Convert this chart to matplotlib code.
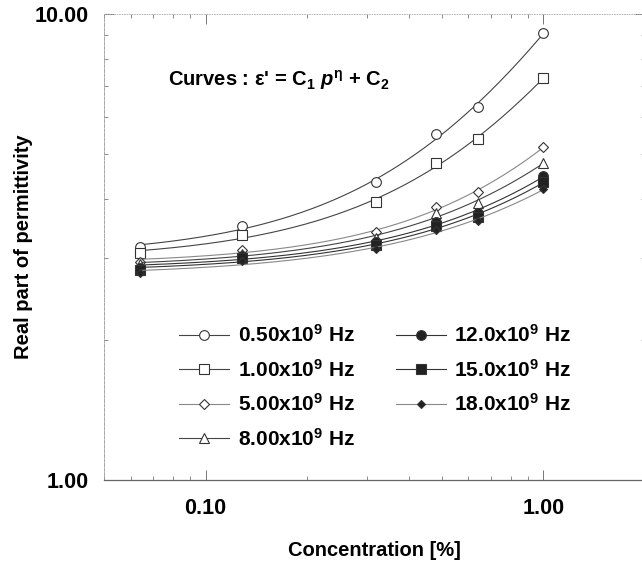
import numpy as np
import matplotlib
matplotlib.use("Agg")
import matplotlib.pyplot as plt
from matplotlib.ticker import FixedLocator, LogLocator, NullFormatter, FuncFormatter

plt.rcParams['font.family'] = ['Liberation Sans', 'DejaVu Sans']
plt.rcParams['font.weight'] = 'bold'
plt.rcParams['mathtext.fontset'] = 'custom'
plt.rcParams['mathtext.rm'] = 'Liberation Sans:bold'
plt.rcParams['mathtext.it'] = 'Liberation Sans:italic:bold'
plt.rcParams['mathtext.bf'] = 'Liberation Sans:bold'
plt.rcParams['mathtext.default'] = 'rm'

# concentrations [%]
conc = np.array([0.064, 0.128, 0.32, 0.48, 0.64, 1.0])

# real part of permittivity per frequency
eps_050 = [3.16, 3.51, 4.36, 5.53, 6.32, 9.10]
eps_100 = [3.07, 3.36, 3.95, 4.79, 5.39, 7.29]
eps_500 = [2.94, 3.12, 3.41, 3.85, 4.15, 5.18]
eps_800 = [2.91, 3.05, 3.31, 3.74, 3.93, 4.79]
eps_120 = [2.85, 3.03, 3.24, 3.58, 3.74, 4.49]
eps_150 = [2.82, 2.99, 3.19, 3.51, 3.67, 4.36]
eps_180 = [2.78, 2.95, 3.13, 3.44, 3.59, 4.21]

labels = ["0.50x10$^9$ Hz", "1.00x10$^9$ Hz", "5.00x10$^9$ Hz", "8.00x10$^9$ Hz",
          "12.0x10$^9$ Hz", "15.0x10$^9$ Hz", "18.0x10$^9$ Hz"]
series = [eps_050, eps_100, eps_500, eps_800, eps_120, eps_150, eps_180]

styles = [
    dict(marker='o', mfc='white', ms=7, color='#444444'),
    dict(marker='s', mfc='white', ms=6.5, color='#444444'),
    dict(marker='D', mfc='white', ms=5, color='#888888'),
    dict(marker='^', mfc='white', ms=7, color='#444444'),
    dict(marker='o', mfc='#222222', ms=7, color='#333333'),
    dict(marker='s', mfc='#222222', ms=6.5, color='#333333'),
    dict(marker='D', mfc='#222222', ms=4.5, color='#888888'),
]


def fit_power(p, e):
    # eps' = C1 * p**eta + C2, least squares over a grid of eta
    p = np.asarray(p)
    e = np.asarray(e)
    best = None
    for eta in np.linspace(0.2, 4, 381):
        A = np.column_stack([p ** eta, np.ones_like(p)])
        coef, res, _, _ = np.linalg.lstsq(A, e, rcond=None)
        r = np.sum((A @ coef - e) ** 2)
        if best is None or r < best[0]:
            best = (r, coef[0], eta, coef[1])
    return best[1:]


fig = plt.figure(figsize=(6.42, 5.65), dpi=100)
ax = fig.add_axes([104 / 642, 1 - 480 / 565, 541 / 642, 466 / 565])

pp = np.geomspace(conc[0], conc[-1], 200)
for vals, lab, st in zip(series, labels, styles):
    c1, eta, c2 = fit_power(conc, vals)
    ax.plot(pp, c1 * pp ** eta + c2, color=st['color'], lw=0.8)
    ax.plot(conc, vals, linestyle='none', marker=st['marker'], ms=st['ms'],
            mfc=st['mfc'], mec='#333333', mew=0.8)
    # legend proxy
    ax.plot([], [], color=st['color'], lw=0.8, marker=st['marker'], ms=st['ms'],
            mfc=st['mfc'], mec='#333333', mew=0.8, label=lab)

ax.set_xscale('log')
ax.set_yscale('log')
ax.set_xlim(0.05, 2.0)
ax.set_ylim(1.0, 10.0)

ax.xaxis.set_major_locator(FixedLocator([0.1, 1.0]))
ax.yaxis.set_major_locator(FixedLocator([1.0, 10.0]))
ax.xaxis.set_minor_locator(LogLocator(base=10, subs=np.arange(2, 10)))
ax.yaxis.set_minor_locator(LogLocator(base=10, subs=np.arange(2, 10)))
ax.xaxis.set_minor_formatter(NullFormatter())
ax.yaxis.set_minor_formatter(NullFormatter())
ax.xaxis.set_major_formatter(FuncFormatter(lambda v, p: f"{v:.2f}"))
ax.yaxis.set_major_formatter(FuncFormatter(lambda v, p: f"{v:.2f}"))

ax.tick_params(which='both', direction='in', top=True, right=True, color='#777777')
ax.tick_params(which='major', length=7, width=0.7, labelsize=15.5)
ax.tick_params(which='minor', length=3, width=0.6)
ax.tick_params(axis='x', which='major', pad=13)
ax.tick_params(axis='y', which='major', pad=11)

ax.spines['bottom'].set_color('#666666')
ax.spines['bottom'].set_linewidth(0.9)
ax.spines['left'].set_color('#999999')
ax.spines['left'].set_linewidth(0.6)
ax.spines['left'].set_linestyle((0, (4, 1.5)))
ax.spines['top'].set_color('#aaaaaa')
ax.spines['top'].set_linewidth(0.6)
ax.spines['top'].set_linestyle((0, (1, 2)))
ax.spines['right'].set_visible(False)

ax.set_xlabel("Concentration [%]", fontsize=14.5, fontweight='bold', labelpad=16)
ax.set_ylabel("Real part of permittivity", fontsize=14.5, fontweight='bold', labelpad=1)

ax.text(0.118, 0.858, "Curves : ε' = C$_1$ $\\mathit{p}^{\\eta}$ + C$_2$",
        transform=ax.transAxes, fontsize=14.5, fontweight='bold', va='center', ha='left')

ax.legend(loc='upper left', bbox_to_anchor=(0.139, 0.334), ncol=2, frameon=False,
          fontsize=15, handlelength=2.4, handletextpad=0.4, columnspacing=2.0,
          labelspacing=0.6, borderpad=0, borderaxespad=0)

fig.savefig("out.png", dpi=100)
